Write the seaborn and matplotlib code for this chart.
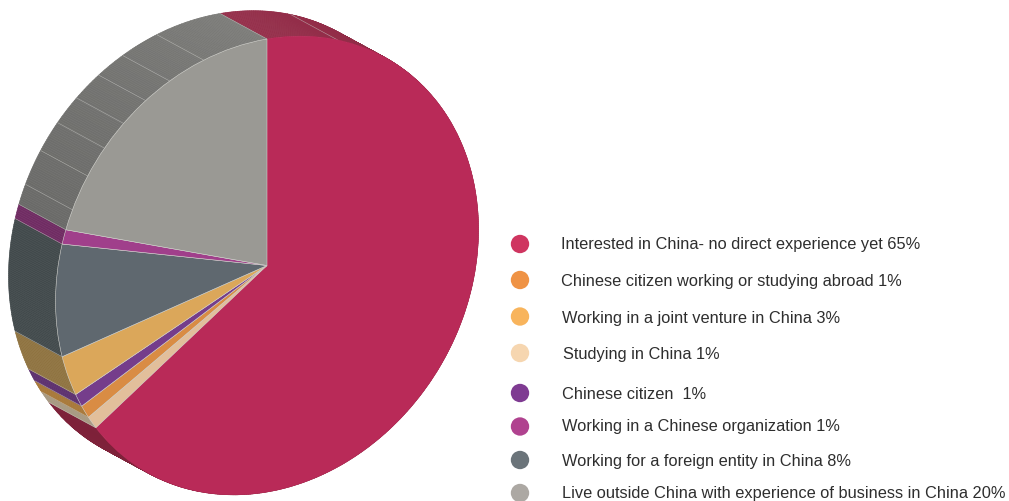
import numpy as np
import matplotlib
matplotlib.use("Agg")
import matplotlib.pyplot as plt
from matplotlib.collections import PolyCollection, LineCollection
from matplotlib.colors import to_rgb
from matplotlib.transforms import Affine2D
import seaborn as sns

# Slices in clockwise order from twelve o'clock
slice_values = [65, 1, 1, 1, 3, 8, 1, 20]
face_colors = ["#b92a58", "#e2bf9b", "#d98c44", "#753d8b",
               "#dba75a", "#5f686f", "#a03f8b", "#9a9994"]
side_start = ["#952e4a", "#a89a82", "#a87838", "#5c2f6e",
              "#8f7340", "#424a4c", "#702c63", "#6a6a68"]
side_end = ["#7d2139", "#a89a82", "#a87838", "#5c2f6e",
            "#8f7340", "#424a4c", "#702c63", "#7c7c79"]
# Extra facet seams on the extruded rim, in degrees clockwise from the top
facet_degrees = [19.5, 293.1, 302, 309.8, 317.3, 325, 332.6, 342.6]

# Legend rows
legend_labels = [
    "Interested in China- no direct experience yet 65%",
    "Chinese citizen working or studying abroad 1%",
    "Working in a joint venture in China 3%",
    "Studying in China 1%",
    "Chinese citizen  1%",
    "Working in a Chinese organization 1%",
    "Working for a foreign entity in China 8%",
    "Live outside China with experience of business in China 20%",
]
legend_colors = ["#cf3560", "#ef9345", "#f8b45c", "#f6d6b0",
                 "#7f3b92", "#b0428f", "#6b747a", "#aca8a3"]
dot_y = [244, 280, 316.5, 353, 393, 426.5, 460, 493]
dot_x = [520, 520, 520, 520, 520, 520, 520, 520]
text_x = [561, 561, 562, 563, 562, 562, 562, 562]
text_base = [249, 286, 323, 359, 399, 431, 466, 498]

sns.set_theme(style="white")
plt.rcParams["font.family"] = ["Liberation Sans", "DejaVu Sans"]

fig = plt.figure(figsize=(10.09, 5.01), dpi=100)
ax = fig.add_axes([0, 0, 1, 1])

# Front face: unit pie sheared into the page's slanted ellipse
wedges, _ = ax.pie(slice_values, colors=face_colors, startangle=90, counterclock=False,
                   wedgeprops={"linewidth": 0.4, "edgecolor": "#cfcfca"})
ax.set_aspect("auto")
ax.set_xlim(0, 1009)
ax.set_ylim(501, 0)
ax.axis("off")

shear = np.array([[211.5, 0.0, 267.0], [-36.0, -226.5, 265.5], [0.0, 0.0, 1.0]])
face_transform = Affine2D(shear) + ax.transData
for w in wedges:
    w.set_transform(face_transform)
    w.set_zorder(3)
wedges[0].set_edgecolor(face_colors[0])


def rim_point(deg):
    t = np.radians(deg)
    return shear[:2, :2] @ np.array([np.sin(t), np.cos(t)]) + shear[:2, 2]


depth = np.array([-47.0, -25.5])

# Extruded rim swept back from the front outline
edges = np.concatenate([[0], np.cumsum(slice_values)]) * 3.6
quads, quad_colors, seams = [], [], []
for i, value in enumerate(slice_values):
    a0, a1 = edges[i], edges[i + 1]
    steps = np.linspace(a0, a1, max(int((a1 - a0) * 2), 2) + 1)
    c0, c1 = np.array(to_rgb(side_start[i])), np.array(to_rgb(side_end[i]))
    for s0, s1 in zip(steps[:-1], steps[1:]):
        f0, f1 = rim_point(s0), rim_point(s1)
        quads.append([f0, f1, f1 + depth, f0 + depth])
        mix = ((s0 + s1) / 2 - a0) / (a1 - a0)
        quad_colors.append(tuple(c0 + (c1 - c0) * mix))
    seams.append([rim_point(a0), rim_point(a0) + depth])
for deg in facet_degrees:
    seams.append([rim_point(deg), rim_point(deg) + depth])

ax.add_collection(PolyCollection(quads, facecolors=quad_colors, edgecolors=quad_colors,
                                 linewidths=0.4, zorder=1))
ax.add_collection(LineCollection(seams, colors="#c9c9c5", linewidths=0.4, alpha=0.7, zorder=2))

# Legend markers and labels
sns.scatterplot(x=dot_x, y=dot_y, hue=legend_labels, palette=legend_colors,
                hue_order=legend_labels, s=175, linewidth=0, legend=False,
                clip_on=False, ax=ax, zorder=4)
for x, y, label in zip(text_x, text_base, legend_labels):
    ax.text(x, y, label, fontsize=11.8, color="#2e2e2e", va="baseline", ha="left")

fig.savefig("out.png", dpi=100)
